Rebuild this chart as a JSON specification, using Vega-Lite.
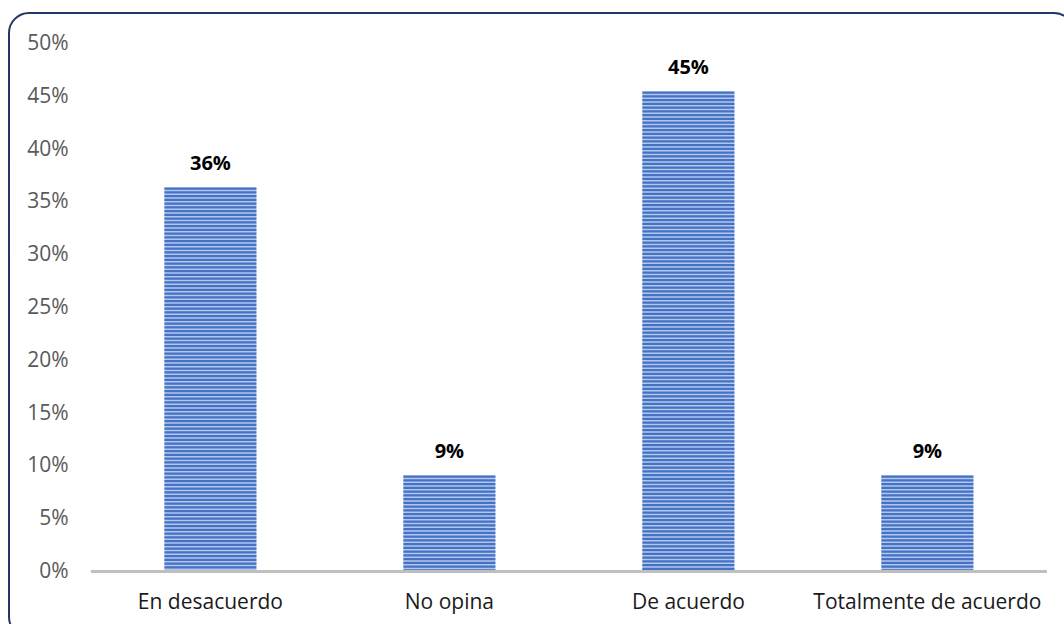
{
  "$schema": "https://vega.github.io/schema/vega-lite/v6.json",
  "autosize": "none",
  "width": 1065,
  "height": 624,
  "padding": {"left": 9, "top": 13, "right": 0, "bottom": 0},
  "background": "white",
  "config": {
    "view": {"stroke": "#1F3864", "strokeWidth": 2, "cornerRadius": 20},
    "font": "Open Sans"
  },
  "data": {
    "values": [
      {"category": "En desacuerdo", "value": 0.3636},
      {"category": "No opina", "value": 0.0909},
      {"category": "De acuerdo", "value": 0.4545},
      {"category": "Totalmente de acuerdo", "value": 0.0909}
    ]
  },
  "encoding": {
    "x": {
      "field": "category",
      "type": "nominal",
      "sort": null,
      "scale": {"paddingInner": 0.615, "paddingOuter": 0.5356, "align": 0.607},
      "axis": {
        "orient": "bottom",
        "offset": -65.5,
        "domain": false,
        "ticks": false,
        "tickSize": 0,
        "labelPadding": 20,
        "labelFontSize": 21,
        "labelFont": "Open Sans",
        "labelColor": "#1A1A1A",
        "labelAngle": 0,
        "labelLimit": 0,
        "title": null
      }
    },
    "y": {
      "field": "value",
      "type": "quantitative",
      "scale": {"domain": [-0.062, 0.5289], "nice": false, "zero": false},
      "axis": {
        "orient": "left",
        "offset": -59,
        "values": [0, 0.05, 0.1, 0.15, 0.2, 0.25, 0.3, 0.35, 0.4, 0.45, 0.5],
        "format": ".0%",
        "domain": false,
        "ticks": false,
        "tickSize": 0,
        "grid": false,
        "labelPadding": 0,
        "labelFontSize": 21,
        "labelFont": "Open Sans",
        "labelColor": "#595959",
        "title": null
      }
    }
  },
  "layer": [
    {
      "mark": {"type": "bar", "color": "#B3C7EC"},
      "encoding": {"y2": {"datum": 0}}
    },
    {
      "mark": {"type": "rule", "color": "#4472C4", "strokeWidth": 92, "strokeDash": [2.3, 1.45], "strokeCap": "butt"},
      "encoding": {"y2": {"datum": 0}}
    },
    {
      "mark": {"type": "rule", "color": "#BFBFBF", "strokeWidth": 3},
      "encoding": {
        "x": {"field": "category", "type": "nominal", "sort": null, "bandPosition": -0.799},
        "x2": {"field": "category", "bandPosition": 1.799},
        "y": {"datum": 0, "type": "quantitative"}
      }
    },
    {
      "mark": {"type": "text", "fontSize": 20, "fontWeight": "bold", "color": "#000000", "baseline": "alphabetic", "dy": -18, "font": "Open Sans"},
      "encoding": {
        "text": {"field": "value", "type": "quantitative", "format": ".0%"}
      }
    }
  ]
}
